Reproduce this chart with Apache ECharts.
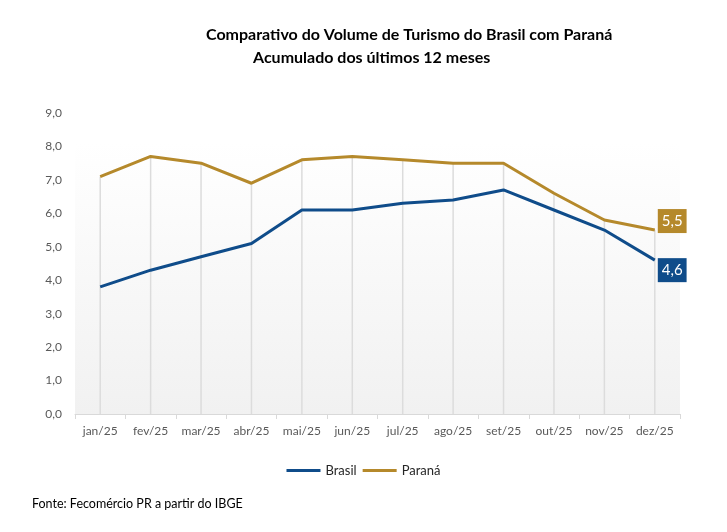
<!DOCTYPE html>
<html>
<head>
<meta charset="utf-8">
<script src="https://cdn.jsdelivr.net/npm/echarts@6/dist/echarts.min.js"></script>
<style>
html,body{margin:0;padding:0;background:#fff;}
#chart{width:727px;height:532px;}
</style>
</head>
<body>
<div id="chart"></div>
<script>
const categories = ['jan/25','fev/25','mar/25','abr/25','mai/25','jun/25','jul/25','ago/25','set/25','out/25','nov/25','dez/25'];
const brasil = [3.8, 4.3, 4.7, 5.1, 6.1, 6.1, 6.3, 6.4, 6.7, 6.1, 5.5, 4.6];
const parana = [7.1, 7.7, 7.5, 6.9, 7.6, 7.7, 7.6, 7.5, 7.5, 6.6, 5.8, 5.5];
const yTicks = [0, 1, 2, 3, 4, 5, 6, 7, 8, 9];

const BLUE = '#0f4c8a';
const GOLD = '#b5892b';
const fmt = v => v.toFixed(1).replace('.', ',');
const font = 'Lato, "Open Sans", sans-serif';

const chart = echarts.init(document.getElementById('chart'), null, {renderer: 'canvas'});

function endLabel(color, offset) {
  return {
    show: true, distance: 3, offset: offset,
    formatter: p => fmt(p.value),
    color: '#fff', backgroundColor: color, padding: [5, 4, 4, 4],
    fontSize: 15, fontFamily: font
  };
}

chart.setOption({
  animation: false,
  backgroundColor: '#fff',
  title: [
    {text: 'Comparativo do Volume de Turismo do Brasil com Paraná', left: 201, top: 22,
     textStyle: {fontSize: 16, fontWeight: 'bold', color: '#000', fontFamily: font}},
    {text: 'Acumulado dos últimos 12 meses', left: 248, top: 45,
     textStyle: {fontSize: 16, fontWeight: 'bold', color: '#000', fontFamily: font}}
  ],
  legend: {
    data: ['Brasil', 'Paraná'],
    bottom: 50, left: 'center',
    itemWidth: 34, itemHeight: 3, itemGap: 6,
    icon: 'rect',
    textStyle: {fontSize: 13, color: '#262626', fontFamily: font}
  },
  graphic: [{
    type: 'text', left: 32, top: 497,
    style: {text: 'Fonte: Fecomércio PR a partir do IBGE', fontSize: 12.5, fill: '#000', fontFamily: font}
  }],
  grid: {
    left: 75, right: 47, top: 113, bottom: 118,
    show: true, borderWidth: 0,
    backgroundColor: new echarts.graphic.LinearGradient(0, 0, 0, 1, [
      {offset: 0, color: '#ffffff'},
      {offset: 0.1, color: '#ffffff'},
      {offset: 1, color: '#f1f1f1'}
    ])
  },
  xAxis: {
    type: 'category', data: categories, boundaryGap: true,
    axisLine: {show: true, lineStyle: {color: '#d9d9d9', width: 1}},
    axisTick: {show: true, length: 5, interval: 0, lineStyle: {color: '#d9d9d9'}},
    axisLabel: {color: '#595959', fontSize: 12, margin: 11, interval: 0, fontFamily: font},
    splitLine: {show: false}
  },
  yAxis: {
    type: 'value', min: 0, max: 9, interval: 1,
    axisLine: {show: false}, axisTick: {show: false},
    splitLine: {show: false},
    axisLabel: {color: '#595959', fontSize: 12, margin: 13, fontFamily: font,
      formatter: v => yTicks.includes(v) ? fmt(v) : ''}
  },
  series: [
    {
      name: 'drop', type: 'bar', data: parana, barWidth: 1.5, barGap: '-100%',
      itemStyle: {color: '#dcdcdc'}, silent: true, z: 1
    },
    {
      name: 'Brasil', type: 'line', data: brasil,
      showSymbol: false, symbol: 'none',
      lineStyle: {color: BLUE, width: 3}, itemStyle: {color: BLUE}, z: 3,
      endLabel: endLabel(BLUE, [0, 10])
    },
    {
      name: 'Paraná', type: 'line', data: parana,
      showSymbol: false, symbol: 'none',
      lineStyle: {color: GOLD, width: 3}, itemStyle: {color: GOLD}, z: 3,
      endLabel: endLabel(GOLD, [0, -9])
    }
  ]
});
</script>
</body>
</html>
